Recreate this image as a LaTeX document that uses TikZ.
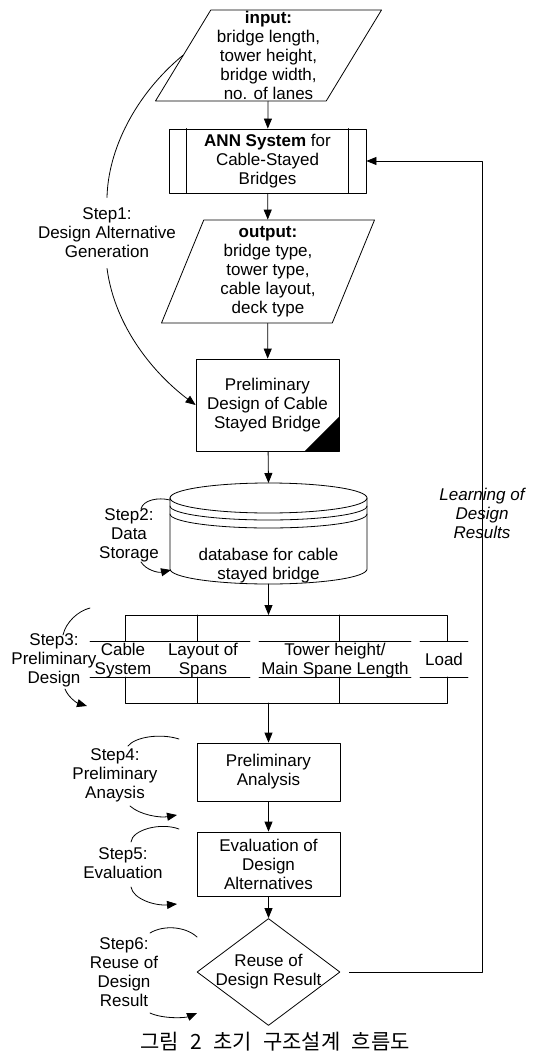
\documentclass[tikz,border=0pt]{standalone}
\usepackage{fontspec}
\setmainfont{Liberation Sans}
\newfontfamily\krfont[WordSpace=2.4]{Noto Sans CJK KR}
\usetikzlibrary{shapes.geometric,arrows.meta}
\begin{document}
\begin{tikzpicture}[x=1pt, y=-1pt, line cap=round, line join=round, line width=0.8pt,
		font=\fontsize{17}{19}\selectfont, >={Triangle[length=10pt,width=8pt]}]
	\tikzset{box/.style={draw, rectangle, align=center, inner sep=0pt, minimum width=143pt},
		io/.style={draw, trapezium, trapezium stretches body, align=center, inner sep=0pt},
		steplabel/.style={align=center, inner sep=0pt},
		plainlabel/.style={align=center, inner sep=0pt}}
	\useasboundingbox (0,0) rectangle (534,1056);
	% main column
	\node[io, trapezium left angle=58, trapezium right angle=122, minimum width=226pt, minimum height=91pt] (in) at (268.5,55.5)
		{\textbf{input:}\\bridge length,\\tower height,\\bridge width,\\no. of lanes};
	\node[box, minimum width=197pt, minimum height=64pt] (ann) at (267.5,161) {\textbf{ANN System} for\\Cable-Stayed\\Bridges};
	\draw ([xshift=18pt]ann.north west) -- ([xshift=18pt]ann.south west);
	\draw ([xshift=-18pt]ann.north east) -- ([xshift=-18pt]ann.south east);
	\node[io, trapezium left angle=65, trapezium right angle=115, minimum width=213pt, minimum height=103pt] (out) at (268,271.5)
		{\textbf{output:}\\bridge type,\\tower type,\\cable layout,\\deck type};
	\node[box, minimum height=92pt] (pd) at (267.5,405) {Preliminary\\Design of Cable\\Stayed Bridge};
	\fill ([xshift=-35pt]pd.south east) -- (pd.south east) -- ([yshift=35pt]pd.south east) -- cycle;
	% database
	\draw (170,498) -- (170,569) arc[start angle=180, end angle=360, x radius=98.5pt, y radius=15pt] -- (367,498);
	\draw (268.5,498) ellipse[x radius=98.5pt, y radius=15pt];
	\draw (170,506) arc[start angle=180, end angle=360, x radius=98.5pt, y radius=14pt];
	\draw (170,514) arc[start angle=180, end angle=360, x radius=98.5pt, y radius=14pt];
	\node[plainlabel] (db) at (268.5,565.5) {database for cable\\stayed bridge};
	\coordinate (dbtop) at (268.5,483);
	\coordinate (dbbot) at (268.5,584);
	% table of design items
	\draw (125,641) -- (125,615) -- (447,615) -- (447,641);
	\draw (125,677) -- (125,703) -- (447,703) -- (447,677);
	\foreach \xx in {197,339} {
		\draw (\xx,615) -- (\xx,641) (\xx,677) -- (\xx,703);
	}
	\foreach \yy in {641,677} {
		\draw (90,\yy) -- (250,\yy) (259,\yy) -- (411,\yy) (420,\yy) -- (468,\yy);
	}
	\node[plainlabel] (cab) at (123,660.5) {Cable\\System};
	\node[plainlabel] (lay) at (203,660.5) {Layout of\\Spans};
	\node[plainlabel] (tow) at (335,660.5) {Tower height/\\Main Spane Length};
	\node[plainlabel] (load) at (444,659) {Load};
	\coordinate (tabtop) at (268.5,615);
	\coordinate (tabbot) at (268.5,703);
	\node[box, minimum height=58pt] (pa) at (268.5,772) {Preliminary\\Analysis};
	\node[box, minimum height=64pt] (ev) at (268.5,864) {Evaluation of\\Design\\Alternatives};
	\node[draw, diamond, aspect=1.35, minimum width=143pt, minimum height=107pt, inner sep=0pt, align=center] (dia) at (268.5,972)
		{Reuse of\\\makebox[88pt]{Design Result}};
	\draw[->] (in) -- (ann);
	\draw[->] (ann) -- (out);
	\draw[->] (out) -- (pd);
	\draw[->] (pd) -- (dbtop);
	\draw[->] (dbbot) -- (tabtop);
	\draw[->] (tabbot) -- (pa);
	\draw[->] (pa) -- (ev);
	\draw[->] (ev) -- (dia);
	% feedback loop
	\coordinate (fb) at (482,972);
	\draw[->] ([xshift=9pt]dia.east) -- (fb) |- (ann.east);
	\node[plainlabel, font=\fontsize{17}{19}\selectfont\itshape] (learn) at (482,513) {Learning of\\Design\\Results};
	% steps
	\node[steplabel] (s1) at (107,233) {Step1:\\Design Alternative\\Generation};
	\node[steplabel] (s2) at (129,535) {Step2:\\Data\\Storage};
	\node[steplabel] (s3) at (54,660) {Step3:\\Preliminary\\Design};
	\node[steplabel] (s4) at (115,775) {Step4:\\Preliminary\\Anaysis};
	\node[steplabel] (s5) at (123,862.75) {Step5:\\Evaluation};
	\node[steplabel] (s6) at (124,971.75) {Step6:\\Reuse of\\Design\\Result};
	\draw (in.west) .. controls (135,95) and (108,150) .. ([yshift=10pt]s1.north);
	\draw[->] ([yshift=-10pt]s1.south) .. controls +(8,60) and +(-40,-30) .. (pd.west);
	\draw (141,509) .. controls (143,500) and (158,497) .. (170,500);
	\draw[->] (141,562) .. controls (146,570) and (158,573) .. (171,570);
	\draw (63,635) .. controls (66,622) and (78,611) .. (90,608);
	\draw[->] (65,689) .. controls (68,697) and (77,703) .. (87,706);
	\draw (128,746) .. controls (135,737) and (160,733) .. (179,739);
	\draw[->] (130,806) .. controls (140,815) and (160,818) .. (177,815);
	\draw (131,842) .. controls (132,830) and (160,822) .. (179,829);
	\draw[->] (131,887) .. controls (133,899) and (155,906) .. (177,904);
	\draw (150,933) .. controls (163,925) and (185,926) .. (197,937);
	\draw[->] (150,1013) .. controls (163,1019) and (185,1018) .. (197,1013);
	% caption
	\node[plainlabel, font=\fontsize{21}{24}\krfont] (cap) at (275,1042) {그림 2 초기 구조설계 흐름도};
\end{tikzpicture}
\end{document}
